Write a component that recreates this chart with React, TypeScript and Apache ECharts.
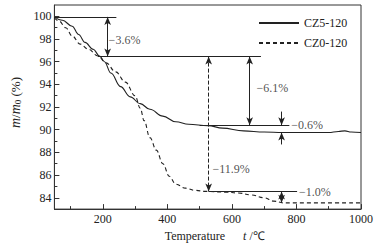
import React, { useEffect, useRef } from 'react';
import * as echarts from 'echarts';

// CZ5-120 (solid) thermogravimetric curve
const cz5Temps = [50, 75, 105, 125, 145, 170, 190, 205, 225, 255, 285, 316, 346, 386, 426, 466, 526, 571, 636, 700, 757, 900, 930, 950, 970, 1000];
const cz5Mass = [99.95, 99.65, 99.13, 98.4, 97.7, 97.1, 96.5, 96.0, 95.0, 93.8, 92.9, 92.3, 91.8, 91.2, 90.7, 90.48, 90.36, 90.14, 89.9, 89.8, 89.75, 89.75, 89.85, 89.9, 89.8, 89.75];

// CZ0-120 (dashed) thermogravimetric curve
const cz0Temps = [50, 65, 85, 105, 130, 155, 185, 210, 240, 270, 300, 316, 328, 346, 366, 386, 406, 426, 456, 486, 520, 580, 620, 660, 700, 730, 760, 1000];
const cz0Mass = [99.86, 99.57, 99.0, 98.27, 97.55, 97.1, 96.5, 95.9, 95.1, 94.2, 93.0, 91.9, 90.8, 89.3, 88.2, 87.0, 85.9, 85.2, 84.85, 84.65, 84.56, 84.5, 84.42, 84.25, 84.0, 83.7, 83.55, 83.55];

const seriesNames = ['CZ5-120', 'CZ0-120'];

// axis ticks
const xMajor = [200, 400, 600, 800, 1000];
const xMinor = [100, 300, 500, 700, 900];
const yMajor = [84, 86, 88, 90, 92, 94, 96, 98, 100];
const yMinor = [85, 87, 89, 91, 93, 95, 97, 99];

// annotations: horizontal reference levels [tStart, tEnd, level]
const hLines = [
  [50, 242, 99.95],
  [185, 690, 96.45],
  [500, 778, 90.4],
  [528, 802, 84.56],
];
// double arrows [t, from, to, lineType]
const dblArrows: [number, number, number, string][] = [
  [215, 99.95, 96.45, 'solid'],
  [655, 96.45, 90.4, 'solid'],
  [528, 96.45, 84.56, 'dashed'],
  [754, 84.56, 83.55, 'solid'],
];
// single arrows [t, from, to]
const singleArrows = [
  [754, 91.6, 90.4],
  [754, 88.7, 89.75],
];
const lossLabels = ['−3.6%', '−6.1%', '−11.9%', '−0.6%', '−1.0%'];
const lossLabelPos = [
  [218, 97.9],
  [676, 93.7],
  [540, 86.5],
  [784, 90.45],
  [808, 84.5],
];

export default function App() {
  const ref = useRef<HTMLDivElement>(null);
  useEffect(() => {
    const chart = echarts.init(ref.current!, null, { renderer: 'svg' });
    const font = 'Liberation Serif';
    const ink = '#222';
    const markData: any[] = [];
    hLines.forEach(([a, b, v]) =>
      markData.push([
        { coord: [a, v], symbol: 'none' },
        { coord: [b, v], symbol: 'none' },
      ])
    );
    dblArrows.forEach(([t, y1, y2, type]) =>
      markData.push([
        { coord: [t, y1], symbol: 'arrow', lineStyle: { type, color: ink, width: 1 } },
        { coord: [t, y2], symbol: 'arrow' },
      ])
    );
    singleArrows.forEach(([t, a, b]) =>
      markData.push([
        { coord: [t, a], symbol: 'none' },
        { coord: [t, b], symbol: 'arrow' },
      ])
    );

    const baseAxisX = { type: 'value', min: 50, max: 1000, splitLine: { show: false } };
    const baseAxisY = { type: 'value', min: 83, max: 101, splitLine: { show: false } };

    chart.setOption({
      animation: false,
      textStyle: { fontFamily: font },
      grid: { left: 45, right: 18, top: 5, bottom: 34, show: true, borderColor: '#333', borderWidth: 1, backgroundColor: 'transparent' },
      legend: {
        data: seriesNames,
        orient: 'vertical',
        left: 258,
        top: 17,
        padding: 0,
        itemWidth: 40,
        itemHeight: 12,
        itemGap: 8,
        itemStyle: { color: 'transparent', borderWidth: 0, opacity: 0 },
        textStyle: { fontFamily: font, fontSize: 12, color: ink },
      },
      xAxis: [
        {
          ...baseAxisX,
          axisLine: { lineStyle: { color: '#333' } },
          axisTick: { inside: true, length: 5, customValues: xMajor, lineStyle: { color: '#333' } },
          axisLabel: { customValues: xMajor, formatter: (v: number) => String(v), fontFamily: font, fontSize: 12, color: ink, margin: 4 },
          name: '{n|Temperature}      {i|t} /℃',
          nameLocation: 'middle',
          nameGap: 20,
          nameTextStyle: {
            fontFamily: font,
            fontSize: 12,
            color: ink,
            padding: [0, 0, 0, 14],
            rich: {
              n: { fontFamily: font, fontSize: 12, color: ink },
              i: { fontFamily: font, fontSize: 12, fontStyle: 'italic', color: ink },
            },
          },
        },
        {
          ...baseAxisX,
          position: 'bottom',
          axisLine: { show: false },
          axisTick: { inside: true, length: 3, customValues: xMinor, lineStyle: { color: '#333' } },
          axisLabel: { show: false },
        },
      ],
      yAxis: [
        {
          ...baseAxisY,
          axisLine: { lineStyle: { color: '#333' } },
          axisTick: { inside: true, length: 5, customValues: yMajor, lineStyle: { color: '#333' } },
          axisLabel: { customValues: yMajor, formatter: (v: number) => String(v), fontFamily: font, fontSize: 12, color: ink, margin: 3 },
          name: '{i|m}/{i|m}{s|0} (%)',
          nameLocation: 'middle',
          nameGap: 25,
          nameRotate: 90,
          nameTextStyle: {
            fontFamily: font,
            fontSize: 13,
            color: ink,
            padding: [0, 0, 0, 9],
            rich: {
              i: { fontFamily: font, fontSize: 14, fontStyle: 'italic', color: ink },
              s: { fontFamily: font, fontSize: 9, color: ink, verticalAlign: 'bottom', padding: [6, 0, 0, 0] },
            },
          },
        },
        {
          ...baseAxisY,
          position: 'left',
          axisLine: { show: false },
          axisTick: { inside: true, length: 3, customValues: yMinor, lineStyle: { color: '#333' } },
          axisLabel: { show: false },
        },
      ],
      series: [
        {
          name: seriesNames[0],
          type: 'line',
          data: cz5Temps.map((t, i) => [t, cz5Mass[i]]),
          symbol: 'none',
          smooth: 0.4,
          smoothMonotone: 'x',
          lineStyle: { color: ink, width: 1.1, type: 'solid' },
          itemStyle: { color: ink },
        },
        {
          name: seriesNames[1],
          type: 'line',
          data: cz0Temps.map((t, i) => [t, cz0Mass[i]]),
          symbol: 'none',
          smooth: 0.4,
          smoothMonotone: 'x',
          lineStyle: { color: ink, width: 1.1, type: [4, 3] },
          itemStyle: { color: ink },
        },
        {
          type: 'line',
          data: [],
          silent: true,
          markLine: {
            silent: true,
            symbolSize: [5, 8],
            label: { show: false },
            lineStyle: { color: ink, width: 1, type: 'solid' },
            emphasis: { disabled: true },
            data: markData,
          },
        },
        {
          type: 'scatter',
          silent: true,
          symbolSize: 0,
          data: lossLabelPos.map((p, i) => ({ value: p, name: lossLabels[i] })),
          label: {
            show: true,
            position: 'right',
            distance: 0,
            formatter: '{b}',
            fontFamily: font,
            fontSize: 12,
            color: ink,
          },
        },
      ],
    });
    return () => chart.dispose();
  }, []);
  return <div ref={ref} style={{ position: 'fixed', left: 0, top: 0, width: 379, height: 247, background: '#fff' }} />;
}
